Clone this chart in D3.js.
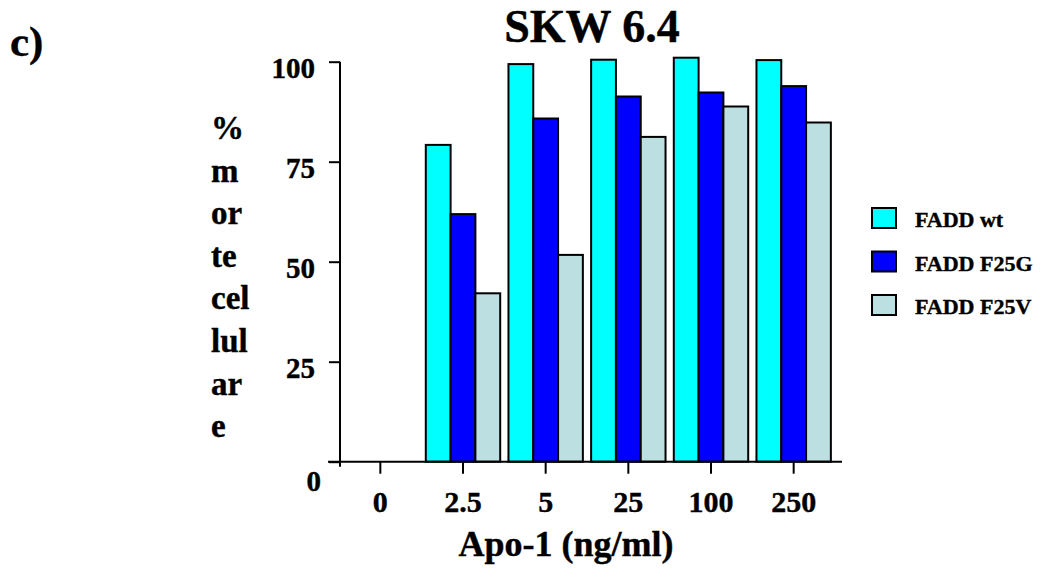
<!DOCTYPE html>
<html>
<head>
<meta charset="utf-8">
<script src="https://cdn.jsdelivr.net/npm/d3@7"></script>
<style>
  body { margin: 0; background: #fff; }
  svg { display: block; }
  text { font-family: "Liberation Serif", "Times New Roman", serif; font-weight: bold; fill: #000; stroke: #000; stroke-width: 0.4px; }
</style>
</head>
<body>
<svg id="chart" width="1048" height="573"></svg>
<script>
// ---- data ----
const categories = ["0", "2.5", "5", "25", "100", "250"];
const seriesNames = ["FADD wt", "FADD F25G", "FADD F25V"];
const faddWt   = [0, 79.2, 99.4, 100.5, 101.0, 100.4];
const fadd25G  = [0, 61.9, 85.8, 91.3, 92.3, 93.9];
const fadd25V  = [0, 42.1, 51.7, 81.2, 88.8, 84.8];
const yTicks = [0, 25, 50, 75, 100];
const yLabelLines = ["%", "m", "or", "te", "cel", "lul", "ar", "e"];
const colors = ["#00FFFF", "#0000FF", "#BCDFE2"];

const seriesValues = [faddWt, fadd25G, fadd25V];

const svg = d3.select("#chart");

const x0 = d3.scaleBand().domain(categories).range([339, 835]).paddingInner(0.1).paddingOuter(0.05);
const x1 = d3.scaleBand().domain(seriesNames).range([0, x0.bandwidth()]);
const y = d3.scaleLinear().domain([0, 100]).range([461.7, 61.7]);

// bars
const groups = svg.append("g").selectAll("g")
  .data(categories)
  .join("g")
  .attr("transform", d => `translate(${x0(d)},0)`);

groups.selectAll("rect")
  .data((c, i) => seriesNames.map((s, j) => ({ s, j, v: seriesValues[j][i] })).filter(d => d.v > 0))
  .join("rect")
  .attr("x", d => x1(d.s))
  .attr("y", d => y(d.v))
  .attr("width", x1.bandwidth())
  .attr("height", d => y(0) - y(d.v))
  .attr("fill", d => colors[d.j])
  .attr("stroke", "#000")
  .attr("stroke-width", 2);

// y axis
const yAxis = svg.append("g")
  .attr("transform", "translate(340,0)")
  .call(d3.axisLeft(y).tickValues(yTicks).tickSize(11).tickPadding(14).tickSizeOuter(0));
yAxis.select(".domain").remove();
yAxis.selectAll(".tick line").attr("stroke", "#000").attr("stroke-width", 2);
yAxis.selectAll(".tick text")
  .attr("font-size", 29)
  .attr("dy", d => d === 0 ? "1.0em" : "0.55em")
  .attr("dx", d => d === 0 ? 6 : 0);
svg.append("line")
  .attr("x1", 340).attr("x2", 340)
  .attr("y1", y(100)).attr("y2", y(0) + 5)
  .attr("stroke", "#000").attr("stroke-width", 2);

// x axis
const xAxis = svg.append("g")
  .attr("transform", `translate(0,${y(0)})`)
  .call(d3.axisBottom(x0).tickSize(12).tickPadding(17).tickSizeOuter(0));
xAxis.select(".domain").remove();
xAxis.selectAll(".tick line").attr("stroke", "#000").attr("stroke-width", 2);
xAxis.selectAll(".tick text").attr("font-size", 30);
svg.append("line")
  .attr("x1", 328).attr("x2", 842)
  .attr("y1", y(0)).attr("y2", y(0))
  .attr("stroke", "#000").attr("stroke-width", 2);

// title
svg.append("text").attr("x", 592).attr("y", 42).attr("text-anchor", "middle")
  .attr("font-size", 46).text("SKW 6.4");
// panel letter
svg.append("text").attr("x", 10).attr("y", 56).attr("font-size", 43).text("c)");

// x title
svg.append("text").attr("x", 566).attr("y", 556).attr("text-anchor", "middle")
  .attr("font-size", 36).text("Apo-1 (ng/ml)");

// y label stacked
svg.append("text").attr("font-size", 33)
  .selectAll("tspan").data(yLabelLines).join("tspan")
  .attr("x", 211).attr("y", (d, i) => 139 + i * 42.6).text(d => d);

// legend
const legend = svg.append("g").selectAll("g").data(seriesNames).join("g")
  .attr("transform", (d, i) => `translate(872,${208 + i * 43.5})`);
legend.append("rect").attr("width", 24).attr("height", 20)
  .attr("fill", (d, i) => colors[i]).attr("stroke", "#000").attr("stroke-width", 2);
legend.append("text").attr("x", 43).attr("y", 19).attr("font-size", 22).text(d => d);
</script>
</body>
</html>
